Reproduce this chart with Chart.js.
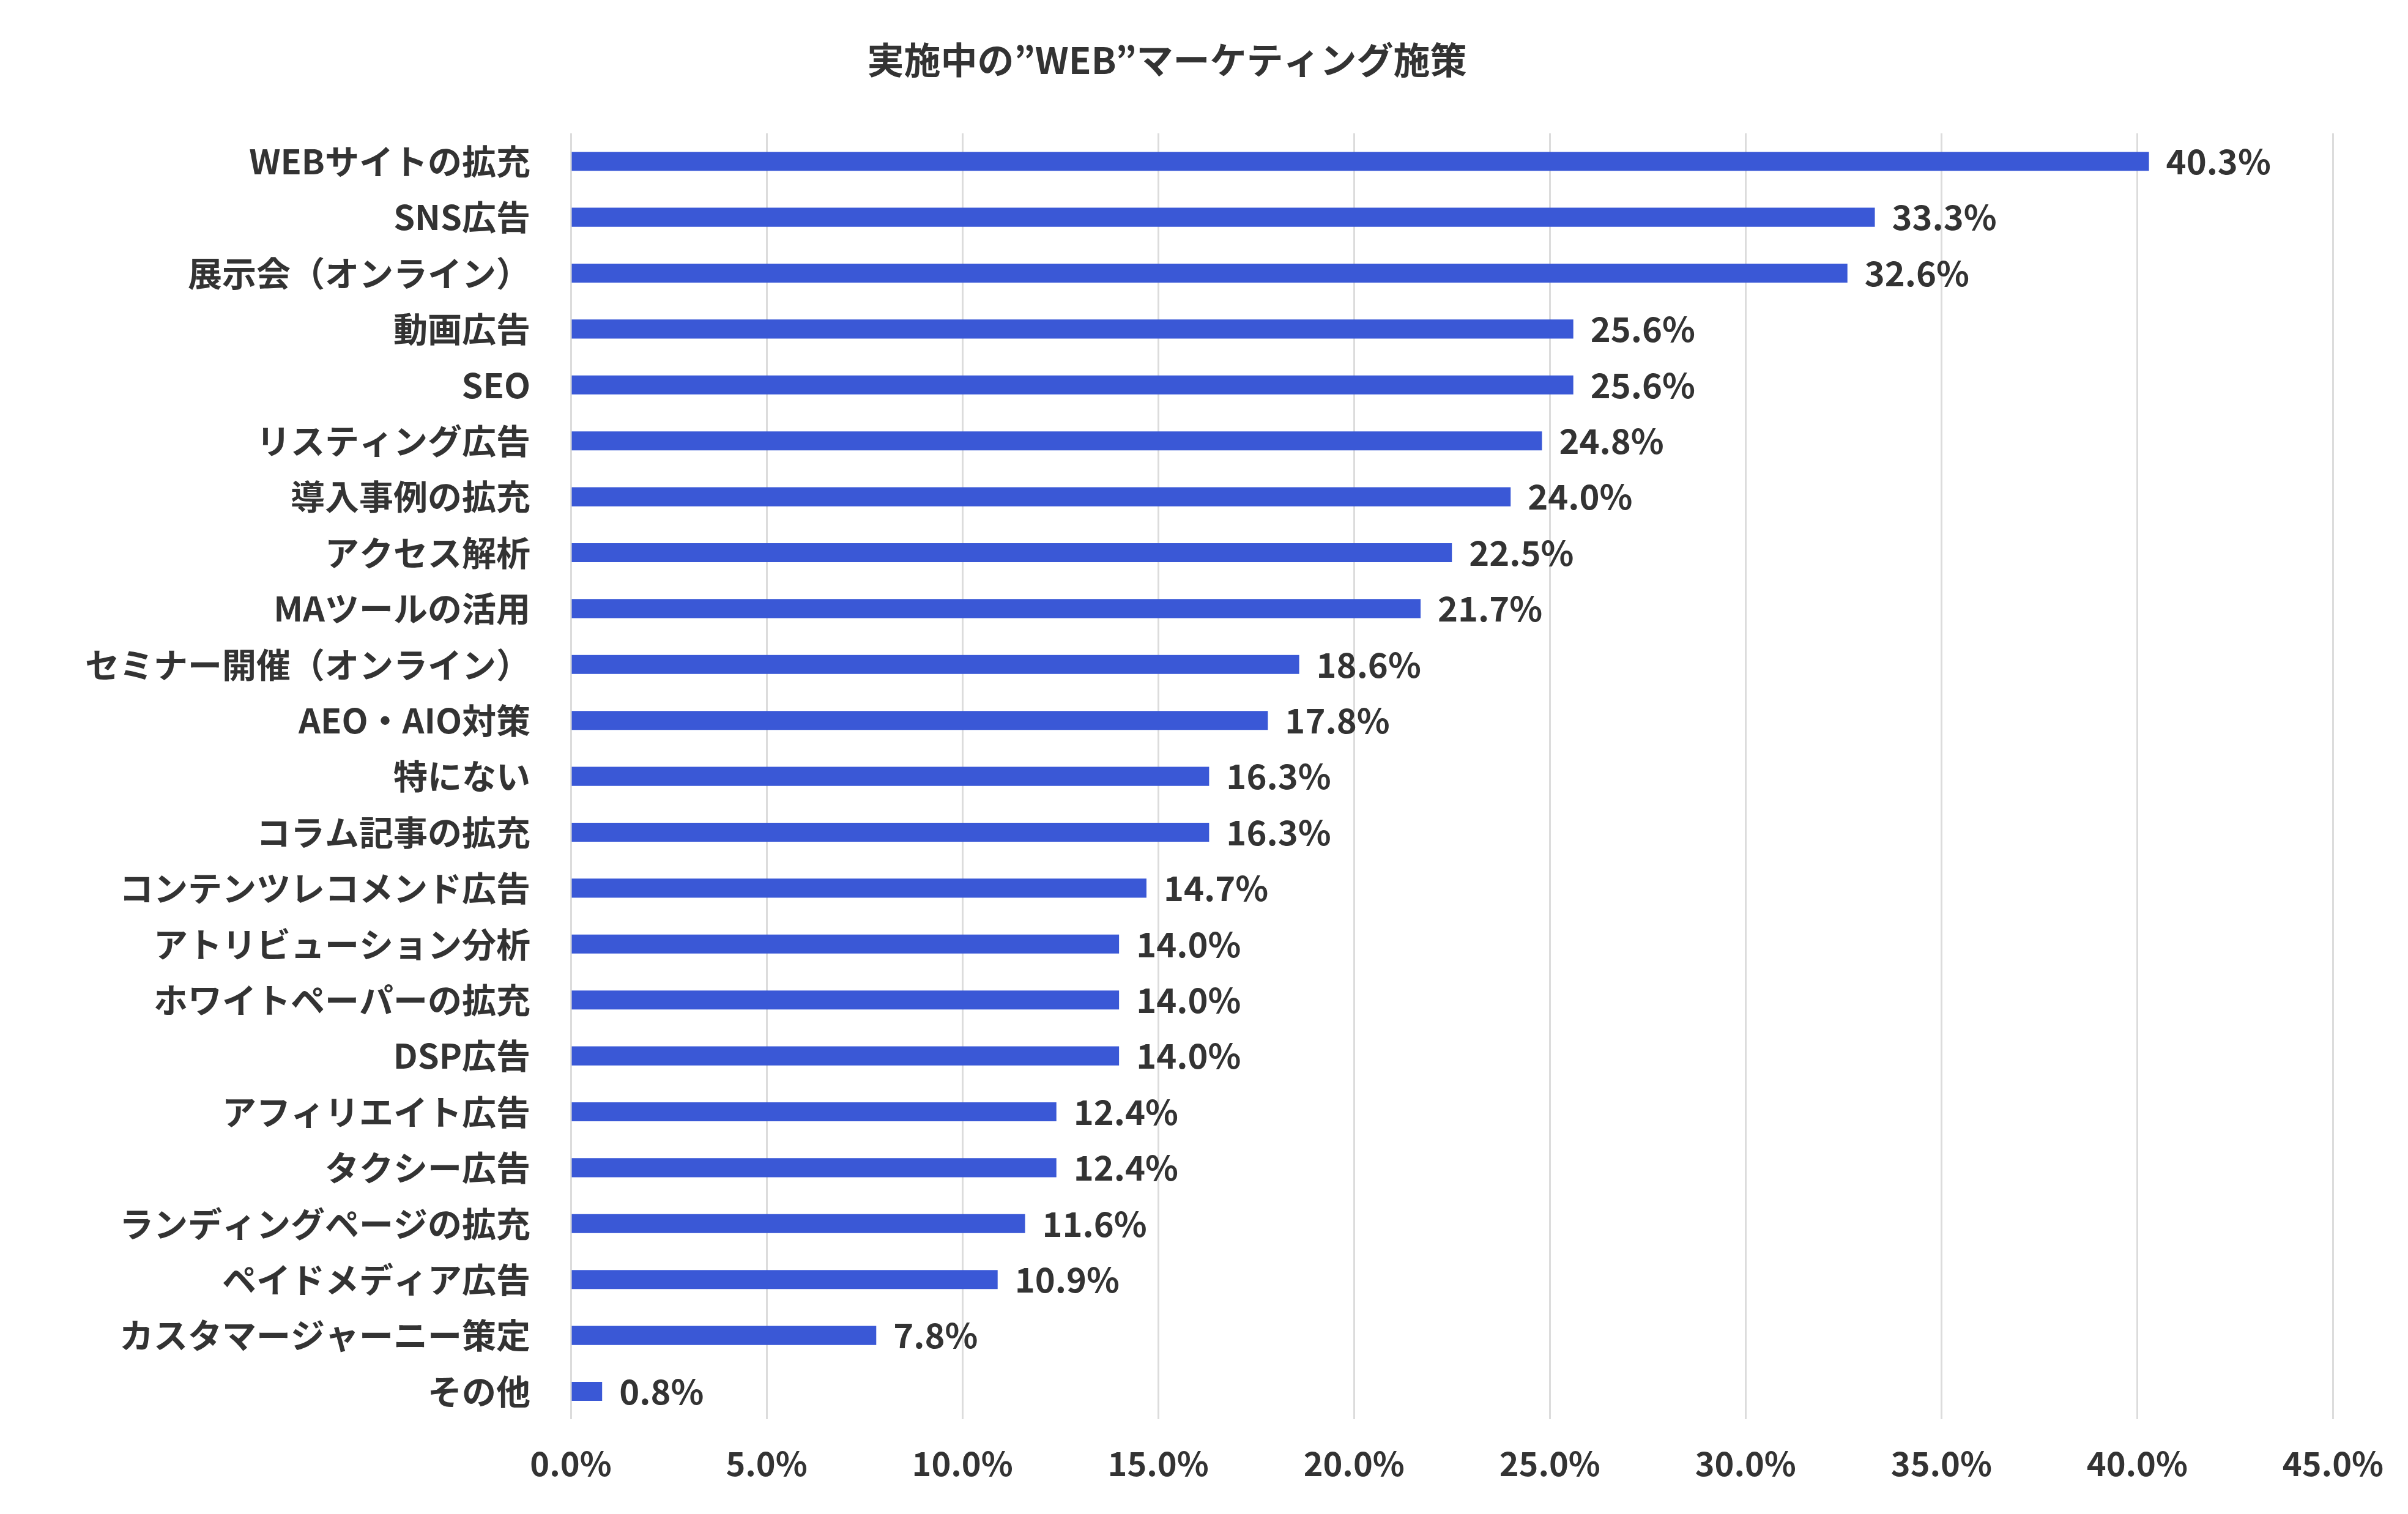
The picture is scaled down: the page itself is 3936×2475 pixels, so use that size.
<!DOCTYPE html>
<html><head><meta charset="utf-8">
<script src="https://cdn.jsdelivr.net/npm/chart.js@4"></script>
<style>html,body{margin:0;background:#fff}</style>
</head><body>
<canvas id="c" width="3936" height="2475"></canvas>
<script>
const categories = ["WEBサイトの拡充","SNS広告","展示会（オンライン）","動画広告","SEO","リスティング広告","導入事例の拡充","アクセス解析","MAツールの活用","セミナー開催（オンライン）","AEO・AIO対策","特にない","コラム記事の拡充","コンテンツレコメンド広告","アトリビューション分析","ホワイトペーパーの拡充","DSP広告","アフィリエイト広告","タクシー広告","ランディングページの拡充","ペイドメディア広告","カスタマージャーニー策定","その他"];
const values = [40.3,33.3,32.6,25.6,25.6,24.8,24.0,22.5,21.7,18.6,17.8,16.3,16.3,14.7,14.0,14.0,14.0,12.4,12.4,11.6,10.9,7.8,0.8];
const xTicks = [0,5,10,15,20,25,30,35,40,45];

const FONT = "'Noto Sans CJK JP','Noto Sans',sans-serif";
const TXT = "#333333";

// value labels to the right of each bar
const valueLabels = {
  id: "valueLabels",
  afterDatasetsDraw(chart) {
    const ctx = chart.ctx;
    ctx.save();
    ctx.font = "bold 56px " + FONT;
    ctx.fillStyle = TXT;
    ctx.textBaseline = "middle";
    chart.getDatasetMeta(0).data.forEach((bar, i) => {
      ctx.fillText(values[i].toFixed(1) + "%", bar.x + 28, bar.y);
    });
    ctx.restore();
  }
};

new Chart(document.getElementById("c"), {
  type: "bar",
  data: {
    labels: categories,
    datasets: [{
      data: values,
      backgroundColor: "#3a58d6",
      barPercentage: 0.34,
      categoryPercentage: 1
    }]
  },
  options: {
    indexAxis: "y",
    responsive: false,
    animation: false,
    layout: { padding: { right: 121, bottom: 10 } },
    plugins: {
      legend: { display: false },
      tooltip: { enabled: false },
      title: {
        display: true,
        text: "実施中の”WEB”マーケティング施策",
        color: TXT,
        font: { family: FONT, size: 60, weight: "bold" },
        padding: { top: 62, bottom: 84 }
      }
    },
    scales: {
      x: {
        min: 0, max: 45,
        afterBuildTicks: s => { s.ticks = xTicks.map(v => ({ value: v })); },
        ticks: {
          callback: v => v.toFixed(1) + "%",
          color: TXT,
          font: { family: FONT, size: 54, weight: "bold" },
          padding: 40
        },
        grid: { color: "#dcdcdc", lineWidth: 3, drawTicks: false },
        border: { display: false }
      },
      y: {
        afterFit: s => { s.width = 933; },
        ticks: {
          color: TXT,
          font: { family: FONT, size: 56, weight: "bold" },
          padding: 66
        },
        grid: { display: false, drawTicks: false },
        border: { display: false }
      }
    }
  },
  plugins: [valueLabels]
});
</script>
</body></html>
